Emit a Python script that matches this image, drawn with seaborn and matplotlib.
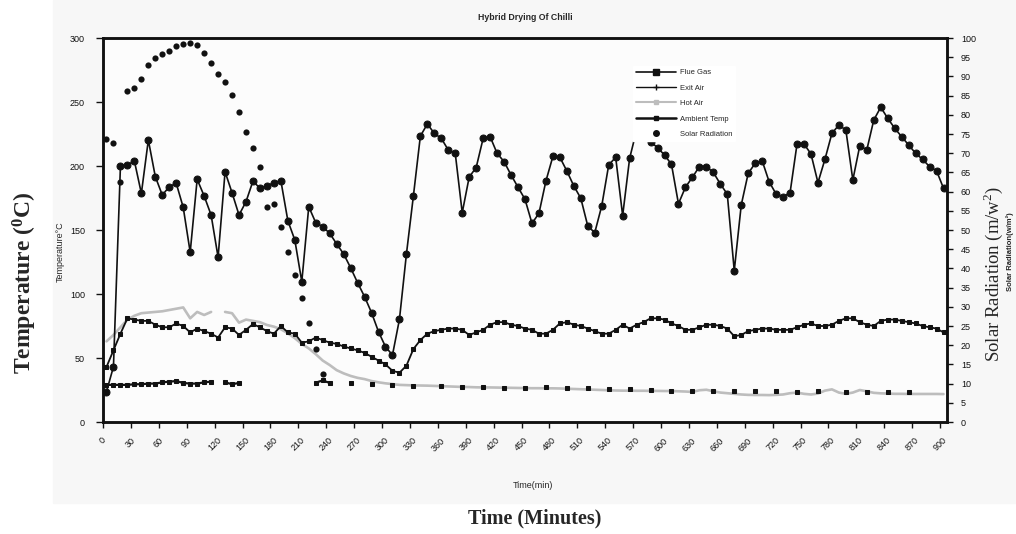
import numpy as np
import pandas as pd
import matplotlib
matplotlib.use("Agg")
import matplotlib.pyplot as plt
import seaborn as sns
from matplotlib.lines import Line2D
from matplotlib.patches import Rectangle

nan = np.nan

# ---------------- data ----------------
time_min = np.arange(121) * 7.5          # readings every 7.5 minutes
tick_values = list(range(0, 901, 30))
tick_labels = [str(v) for v in tick_values]

flue_gas = [23.7, 43.2, 200.0, 200.8, 203.9, 178.6, 220.3, 191.7, 177.3, 183.8,
            186.5, 167.7, 132.6, 189.6, 176.6, 161.7, 128.7, 195.5, 179.1, 161.7,
            172.1, 188.2, 182.6, 184.4, 187.0, 188.5, 157.3, 142.2, 109.6, 168.2,
            155.7, 152.6, 147.4, 139.1, 131.3, 120.5, 108.8, 97.9, 85.4, 70.5,
            58.8, 52.3, 80.2, 131.2, 176.6, 223.4, 232.8, 225.5, 221.6, 212.5,
            209.9, 163.5, 191.4, 198.8, 221.6, 222.9, 209.9, 203.4, 193.0, 183.4,
            174.0, 155.2, 163.0, 188.3, 207.5, 206.8, 196.1, 184.4, 174.8, 153.1,
            147.9, 168.8, 200.8, 206.8, 161.2, 206.0, 228.0, 224.0, 219.0, 214.3,
            208.6, 201.3, 170.5, 183.4, 191.2, 199.5, 199.5, 195.0, 186.0, 178.0,
            118.2, 169.5, 194.3, 202.1, 204.1, 187.7, 178.1, 176.0, 179.1, 217.2,
            217.2, 209.4, 187.0, 205.2, 225.5, 232.0, 228.1, 189.1, 215.9, 212.5,
            235.9, 245.9, 237.3, 229.5, 222.9, 216.4, 209.9, 205.2, 199.5, 196.3,
            182.6]

exit_air = [43, 56, 69, 81, 80, 79, 79, 76, 74, 74,
            77, 75, 70, 73, 71, 69, 66, 74, 73, 68,
            72, 76.5, 74, 71, 69, 75, 70, 69, 62, 63,
            66, 64, 62, 61, 59, 57.5, 56, 54, 51, 48,
            45, 40, 38.5, 44, 57, 64, 69, 71, 72, 73,
            73, 72, 68, 70, 72, 76, 78, 78, 76, 75,
            73, 72, 69, 69, 72, 77, 78, 76, 75, 73,
            71, 69, 69, 72, 76, 73, 76, 78, 81, 81,
            80, 77, 75, 72, 72, 74, 76, 76, 75, 73,
            67, 68, 71, 72, 73, 73, 72, 72, 72, 74,
            76, 77, 75, 75, 76, 79, 81, 81, 78, 76,
            75, 79, 80, 80, 79, 78, 77, 75, 74, 73,
            70]

hot_air = [63, 68, 74, 80, 83, 85, 85.5, 86, 86.5, 87.5,
           88.5, 89.5, 81, 86, 83.6, 86, nan, 86, 85, 77.6,
           80, 79, 78, 75.8, 74.5, 72.5, 69.3, 65.5, 61, 57.5,
           53, 48, 44.5, 40.5, 38, 36, 34.5, 33.5, 32, 31,
           30.2, 29.6, 29, 28.8, 28.6, 28.5, 28.4, 28.2, 28.0, 27.8,
           27.6, 27.4, 27.3, 27.1, 27.0, 27.0, 26.9, 26.8, 26.7, 26.6,
           26.5, 26.4, 26.4, 26.3, 26.3, 26.2, 26.0, 25.8, 25.6, 25.4,
           25.2, 25.0, 24.8, 24.6, 24.5, 24.5, 24.4, 24.4, 24.3, 24.3,
           24.2, 24.2, 24.0, 23.8, 23.5, 24.8, 25.2, 24.0, 23.0, 22.5,
           22.0, 21.5, 21.2, 21.1, 21.1, 21.0, 21.2, 21.5, 22.5, 23.0,
           22.0, 21.5, 22.2, 24.5, 25.5, 23.0, 22.0, 23.0, 25.0, 24.0,
           22.8, 22.4, 22.2, 22.0, 22.0, 21.9, 21.9, 21.9, 21.9, 21.9,
           21.8]

ambient = [29, 29, 29, 29, 29.5, 29.5, 30, 30, 31, 31.5,
           32, 30.5, 30, 30, 31, 31.5, nan, 31, 29.5, 30.5,
           nan, nan, nan, nan, nan, nan, nan, nan, nan, nan,
           30.7, 32.5, 30.5, nan, nan, 30.7, nan, nan, 29.7, nan,
           nan, 28.9, nan, nan, 28.4, nan, nan, nan, 28.1, nan,
           nan, 27.6, nan, nan, 27.6, nan, nan, 26.8, nan, nan,
           26.8, nan, nan, 27.1, nan, nan, 26.3, nan, nan, 26.3,
           nan, nan, 25.5, nan, nan, 25.8, nan, nan, 25.0, nan,
           nan, 24.2, nan, nan, 24.2, nan, nan, 24.2, nan, nan,
           24.5, nan, nan, 24.5, nan, nan, 24.2, nan, nan, 23.7,
           nan, nan, 24.5, nan, nan, nan, 23.7, nan, nan, 23.7,
           nan, nan, 23.7, nan, nan, 23.7, nan, nan, nan, nan,
           nan]

solar = [73.7, 72.7, 62.5, 86.3, 86.9, 89.4, 93.0, 94.8, 95.8, 96.7,
         98.0, 98.4, 98.6, 98.1, 96.0, 93.6, 90.7, 88.5, 85.1, 80.6,
         75.6, 71.4, 66.5, 55.9, 56.8, 50.7, 44.3, 38.4, 32.3, 25.7,
         19.0, 12.5]

series_names = ["Flue Gas", "Exit Air", "Hot Air", "Ambient Temp", "Solar Radiation"]

# ---------------- style ----------------
sns.set_style("ticks")
plt.rcParams['font.family'] = ['Liberation Sans', 'DejaVu Sans']
plt.rcParams['mathtext.fontset'] = 'custom'
plt.rcParams['mathtext.rm'] = 'Liberation Serif'
plt.rcParams['mathtext.bf'] = 'Liberation Serif:bold'

W, H = 1016, 534
fig = plt.figure(figsize=(W / 100, H / 100), dpi=100)
fig.patch.set_facecolor('white')
fig.patches.append(Rectangle((53 / W, 1 - 503 / H), 1 - 53 / W, 503 / H,
                             transform=fig.transFigure, color='#f7f7f7', zorder=-10))

left, right, bottom, top = 103 / W, 947 / W, 1 - 422 / H, 1 - 38 / H
ax = fig.add_axes([left, bottom, right - left, top - bottom])
ax.set_facecolor('#fcfcfc')


def segments(values):
    s = pd.Series(values, dtype=float)
    seg = s.isna().cumsum()
    df = pd.DataFrame({'time': time_min[:len(s)], 'value': s, 'seg': seg})
    return df.dropna()


sns.lineplot(data=segments(hot_air), x='time', y='value', units='seg', estimator=None,
             sort=False, ax=ax, color='#bdbdbd', linewidth=1.9, legend=False)
sns.lineplot(data=segments(ambient), x='time', y='value', units='seg', estimator=None,
             sort=False, ax=ax, color='#111111', linewidth=1.6, marker='s', markersize=3.5,
             markeredgecolor='#111111', markerfacecolor='#111111', legend=False)
sns.lineplot(data=segments(exit_air), x='time', y='value', units='seg', estimator=None,
             sort=False, ax=ax, color='#111111', linewidth=1.3, marker='s', markersize=2.2,
             markeredgecolor='#111111', markerfacecolor='#111111', legend=False)
sns.lineplot(data=segments(flue_gas), x='time', y='value', units='seg', estimator=None,
             sort=False, ax=ax, color='#111111', linewidth=1.2, marker='o', markersize=5,
             markeredgecolor='#111111', markerfacecolor='#111111', legend=False)

ax.set_xlim(-3.75, 903.75)
ax.set_ylim(0, 300)
ax.set_xticks([v - 3.75 for v in tick_values])
ax.set_xticklabels(tick_labels, rotation=45, ha='center', va='top', fontsize=6.5)
ax.set_yticks(range(0, 301, 50))
ax.set_yticklabels([str(v) for v in range(0, 301, 50)], fontsize=6.5)
ax.set_xlabel('')
ax.set_ylabel('')
ax.tick_params(axis='x', length=4, width=1, pad=6, colors='#111111')
ax.tick_params(axis='y', length=5, width=1, pad=8, colors='#111111')

ax2 = ax.twinx()
sns.scatterplot(x=time_min[:len(solar)], y=solar, ax=ax2, color='#111111', s=20,
                linewidth=0, legend=False, zorder=5)
ax2.set_ylim(0, 100)
ax2.set_yticks(range(0, 101, 5))
ax2.set_yticklabels([str(v) for v in range(0, 101, 5)], fontsize=6.5)
ax2.tick_params(axis='y', length=4, width=1, pad=6, colors='#111111')
ax2.set_ylabel('')

for a in (ax, ax2):
    for sp in a.spines.values():
        sp.set_visible(True)
        sp.set_color('#111111')
        sp.set_linewidth(1.8)

handles = [
    Line2D([], [], color='#111111', lw=1.2, marker='s', ms=4.5),
    Line2D([], [], color='#111111', lw=1.0, marker='+', ms=4),
    Line2D([], [], color='#bdbdbd', lw=1.5, marker='s', ms=3, mfc='#bdbdbd', mec='#bdbdbd'),
    Line2D([], [], color='#111111', lw=1.8, marker='s', ms=3),
    Line2D([], [], color='#111111', lw=0, marker='o', ms=4),
]
leg = ax2.legend(handles, series_names, loc='upper left',
                 bbox_to_anchor=(633 / W, 1 - 66 / H), bbox_transform=fig.transFigure,
                 fontsize=5.5, frameon=True, facecolor='white', edgecolor='white',
                 framealpha=1, fancybox=False, handlelength=5.2, handletextpad=0.5,
                 labelspacing=1.05, borderpad=0.4, borderaxespad=0)
leg.set_zorder(20)

# ---------------- texts ----------------
fig.text(525 / W, 1 - 17 / H, 'Hybrid Drying Of Chilli', ha='center', va='center',
         fontsize=6.3, fontweight='bold')
fig.text(60 / W, 1 - 252 / H, 'Temperature\u00b0C', rotation=90, ha='center', va='center',
         fontsize=6.5)
fig.text(25 / W, 1 - 283 / H, r'Temperature ($\mathbf{^{0}}$C)', rotation=90,
         ha='center', va='center', fontsize=17, fontweight='bold', family='Liberation Serif')
fig.text(993 / W, 1 - 274 / H, r'Solar Radiation (m/w$^{2}$)', rotation=90,
         ha='center', va='center', fontsize=13.5, family='Liberation Serif')
fig.text(1010 / W, 1 - 252 / H, 'Solar Radiation(w/m\u00b2)', rotation=90,
         ha='center', va='center', fontsize=5.5, fontweight='bold')
fig.text(533 / W, 1 - 486 / H, 'Time(min)', ha='center', va='center', fontsize=6.5)
fig.text(535 / W, 1 - 518 / H, 'Time (Minutes)', ha='center', va='center',
         fontsize=14.5, fontweight='bold', family='Liberation Serif')

fig.savefig('out.png', dpi=100)
